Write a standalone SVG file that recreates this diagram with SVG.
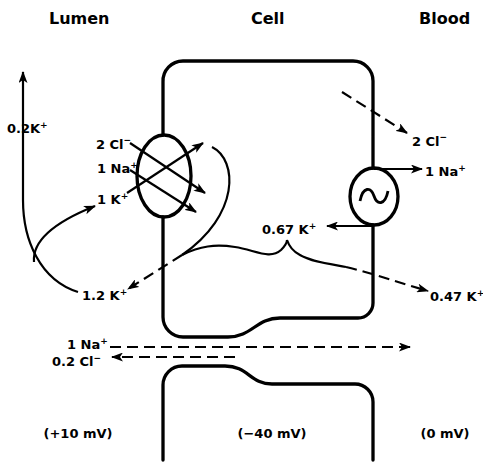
<svg xmlns="http://www.w3.org/2000/svg" width="483" height="464" viewBox="0 0 483 464">
<defs>
<marker id="ah" viewBox="0 0 12 9" refX="11" refY="4.5" markerWidth="12" markerHeight="9" markerUnits="userSpaceOnUse" orient="auto">
<path d="M0 0 L12 4.5 L0 9 L3 4.5 Z" fill="#000"/>
</marker>
<style>
.t{font-family:"DejaVu Sans","Liberation Sans",sans-serif;font-weight:bold;font-size:13px;fill:#000}
.h{font-size:16px}
.s{font-size:9px}
.m{fill:none;stroke:#000;stroke-width:3.3;stroke-linecap:round;stroke-linejoin:round}
.a{fill:none;stroke:#000;stroke-width:2.2;marker-end:url(#ah)}
.d{stroke-dasharray:11 6}
.c{fill:none;stroke:#000;stroke-width:2.2}
</style>
</defs>
<rect width="483" height="464" fill="#fff"/>
<g id="headers">
<text class="t h" x="49" y="24">Lumen</text>
<text class="t h" x="251" y="24">Cell</text>
<text class="t h" x="419" y="24">Blood</text>
</g>
<g id="cell-upper">
<path class="m" d="M163 135 L163 82 A20 20 0 0 1 183 61 L353 61 A20 20 0 0 1 373 81 L373 168"/>
<path class="m" d="M373 225 L373 303 A15 15 0 0 1 358 318 L280 318 C256 318 252 337 228 337 L183 337 A20 20 0 0 1 163 317 L163 217"/>
</g>
<g id="cell-lower">
<path class="m" d="M163 460 L163 385 A19 19 0 0 1 182 366 L225 366 C248 366 250 384 272 384 L355 384 A18 18 0 0 1 373 402 L373 460"/>
</g>
<g id="cotransporter">
<ellipse class="m" cx="164" cy="176" rx="27" ry="41"/>
</g>
<g id="pump">
<ellipse class="m" cx="374" cy="196.5" rx="24" ry="28.5"/>
<path fill="none" stroke="#000" stroke-width="2.8" d="M360 201 C363 186 371 187 374 196 C377 205 385 206 388 191"/>
</g>
<g id="connectors">
<path class="a" d="M130 143 L205 193"/>
<path class="a" d="M130 170 L196 212"/>
<path class="a" d="M127 193 L203 143"/>
<path class="c" d="M212 147 C238 160 240 215 182 255"/>
<path class="c" d="M182 255 C200 246 215 244 235 247 C255 250 270 260 281 250 C285 246 287 242 287 240 C289 246 294 252 300 255 C312 262 330 264 346 267"/>
<path class="a d" d="M346 267 C375 274 400 283 428 291"/>
<path class="a d" d="M182 255 L128 289"/>
<path class="a" d="M78 292 C40 280 23 240 23 200 L23 72"/>
<path class="a" d="M34 262 C32 240 55 222 95 206"/>
<path class="a d" d="M342 92 L407 133"/>
<path class="a" d="M374 169 L422 169"/>
<path class="a" d="M374 226 L327 226"/>
<path class="a d" d="M110 347 L410 347"/>
<path class="a d" d="M235 357 L112 357"/>
</g>
<g id="labels">
<text class="t" x="7" y="133">0.2K<tspan class="s" dy="-5">+</tspan></text>
<text class="t" x="96" y="149">2 Cl<tspan class="s" dy="-6">−</tspan></text>
<text class="t" x="97" y="173">1 Na<tspan class="s" dy="-5">+</tspan></text>
<text class="t" x="97" y="204">1 K<tspan class="s" dy="-5">+</tspan></text>
<text class="t" x="82" y="300">1.2 K<tspan class="s" dy="-5">+</tspan></text>
<text class="t" x="262" y="234">0.67 K<tspan class="s" dy="-5">+</tspan></text>
<text class="t" x="430" y="301">0.47 K<tspan class="s" dy="-5">+</tspan></text>
<text class="t" x="412" y="146">2 Cl<tspan class="s" dy="-6">−</tspan></text>
<text class="t" x="425" y="176">1 Na<tspan class="s" dy="-5">+</tspan></text>
<text class="t" x="67" y="349">1 Na<tspan class="s" dy="-5">+</tspan></text>
<text class="t" x="52" y="366">0.2 Cl<tspan class="s" dy="-5">−</tspan></text>
<text class="t" x="78" y="438" text-anchor="middle">(+10 mV)</text>
<text class="t" x="272" y="438" text-anchor="middle">(−40 mV)</text>
<text class="t" x="445" y="438" text-anchor="middle">(0 mV)</text>
</g>
</svg>
